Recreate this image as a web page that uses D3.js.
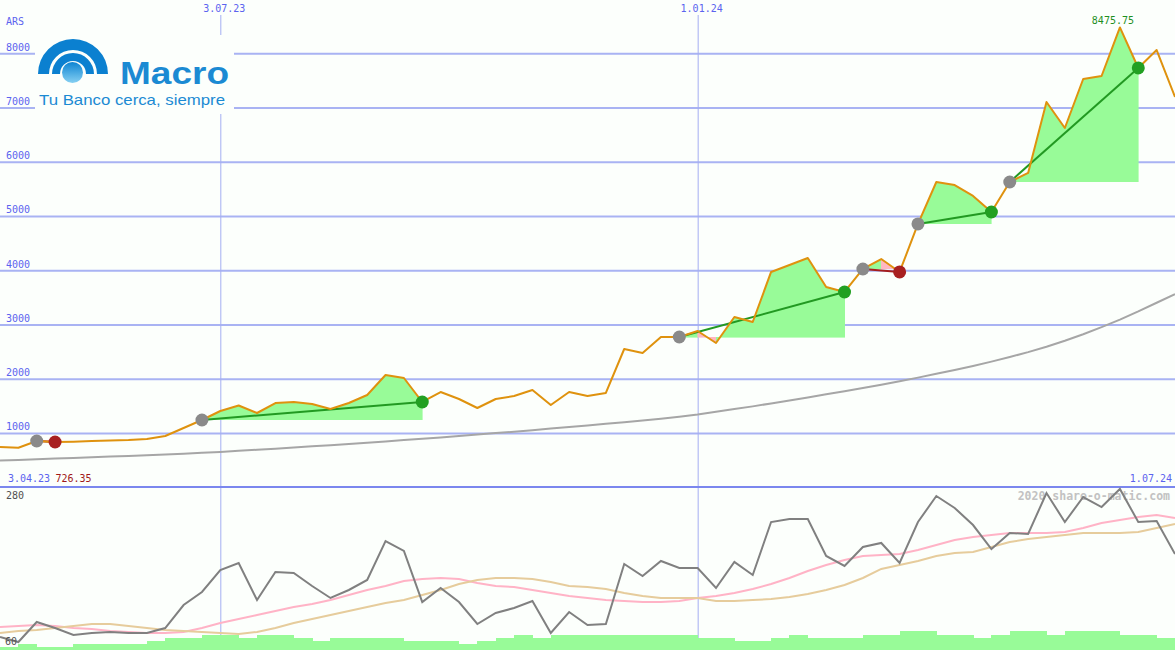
<!DOCTYPE html>
<html><head><meta charset="utf-8">
<script src="https://cdn.jsdelivr.net/npm/d3@7"></script>
<style>html,body{margin:0;padding:0;background:#fcfffc;} svg{display:block;}</style>
</head><body>
<svg id="c" width="1175" height="650"></svg>
<script>
// ---------- data ----------
const dates = ["2023-04-10","2023-04-17","2023-04-24","2023-05-01","2023-05-08","2023-05-15","2023-05-22","2023-05-29","2023-06-05","2023-06-12","2023-06-19","2023-06-26","2023-07-03","2023-07-10","2023-07-17","2023-07-24","2023-07-31","2023-08-07","2023-08-14","2023-08-21","2023-08-28","2023-09-04","2023-09-11","2023-09-18","2023-09-25","2023-10-02","2023-10-09","2023-10-16","2023-10-23","2023-10-30","2023-11-06","2023-11-13","2023-11-20","2023-11-27","2023-12-04","2023-12-11","2023-12-18","2023-12-25","2024-01-01","2024-01-08","2024-01-15","2024-01-22","2024-01-29","2024-02-05","2024-02-12","2024-02-19","2024-02-26","2024-03-04","2024-03-11","2024-03-18","2024-03-25","2024-04-01","2024-04-08","2024-04-15","2024-04-22","2024-04-29","2024-05-06","2024-05-13","2024-05-20","2024-05-27","2024-06-03","2024-06-10","2024-06-17","2024-06-24","2024-07-01"];
const price = [741,726.35,852,833,840,852,861,870,889,944,1092,1239,1405,1506,1368,1552,1571,1534,1442,1552,1700,2069,2013,1571,1755,1626,1460,1626,1681,1792,1515,1755,1681,1737,2548,2474,2769,2769,2880,2658,3138,3046,3968,4097,4226,3691,3599,4023,4207,3968,4853,5627,5571,5369,5074,5627,5793,7102,6622,7526,7581,8475.75,7729,8060,7194];
const priceMA = [492,503,515,527,539,551,564,577,590,604,618,633,650,670,690,711,732,753,775,797,820,843,868,893,918,944,970,997,1024,1052,1080,1109,1138,1168,1198,1229,1262,1298,1340,1390,1440,1490,1545,1600,1655,1712,1770,1830,1890,1955,2020,2090,2160,2235,2315,2400,2490,2590,2700,2820,2950,3090,3240,3400,3560];
const osc = [67.2,60.0,88.8,80.1,70.1,72.9,74.4,72.9,72.9,80.1,113.2,131.9,163.5,173.6,120.4,160.7,159.2,140.5,123.3,134.8,149.2,205.2,190.9,117.5,137.6,117.5,85.9,101.7,108.9,119.0,72.9,103.1,84.4,85.9,172.2,154.9,176.5,166.4,166.4,137.6,175.1,156.3,232.5,236.9,236.9,183.7,169.3,196.6,202.4,173.6,232.5,269.9,252.7,228.2,193.7,216.7,215.3,274.2,232.5,268.5,254.1,280.0,232.5,234.0,186.5];
const oscFast = [81.6,83.0,84.4,83.0,80.1,78.7,75.8,74.4,72.9,72.9,74.4,80.1,87.3,93.1,98.8,104.6,110.3,114.6,120.4,127.6,134.8,140.5,147.7,150.6,152.0,150.6,144.8,140.5,139.1,134.8,130.5,126.1,123.3,120.4,119.0,117.5,117.5,119.0,123.3,126.1,130.5,136.2,143.4,152.0,162.1,170.7,177.9,183.7,185.1,186.6,192.3,199.5,206.7,211.0,213.9,216.7,216.7,216.7,218.2,223.9,231.1,235.4,239.7,242.6,238.3];
const oscSlow = [72.9,75.8,77.3,80.1,83.0,85.9,85.9,83.0,80.1,77.3,75.8,74.4,72.9,71.5,74.4,80.1,87.3,93.1,98.8,104.6,110.3,116.1,120.4,127.6,134.8,143.4,149.2,152.0,152.0,150.6,146.3,140.5,139.1,136.2,130.5,126.1,123.3,123.3,123.3,119.0,119.0,120.4,121.8,124.7,129.0,134.8,142.0,152.0,165.0,170.7,176.5,183.7,188.0,189.4,196.6,203.8,208.1,211.0,213.9,216.7,216.7,216.7,218.2,223.9,229.7];
const volume = [3,6,3,3,6,6,6,6,9,12,12,15,15,12,15,15,12,9,12,12,12,12,9,9,9,6,9,12,15,12,15,15,15,15,15,15,15,15,12,12,9,9,12,15,12,12,12,15,15,19,19,15,15,12,15,19,19,15,19,19,19,15,15,12,12];
const tradeEntry = [2, 11, 37, 47, 50, 55];
const tradeExit  = [3, 23, 46, 49, 54, 62];
const priceTicks = [1000,2000,3000,4000,5000,6000,7000,8000];
const dateTicks = ["2023-07-03","2024-01-01"];
const dateTickLabels = ["3.07.23","1.01.24"];
const startLabel = "3.04.23", endLabel = "1.07.24";
const minLabel = "726.35", maxLabel = "8475.75";
const oscLabels = ["280","60"];
const unitLabel = "ARS";
const watermark = "2020 share-o-matic.com";

// ---------- setup ----------
const W = 1175, H = 650;
const svg = d3.select("#c");
const parse = d3.timeParse("%Y-%m-%d");
const D = dates.map(parse);
const mono = "'DejaVu Sans Mono', monospace";
const blue = "#5b63ef";
const x = d3.scaleTime().domain([parse("2023-04-10"), parse("2024-07-01")]).range([0, W]);
const y = d3.scaleLinear().domain([0, 8982]).range([487.2, 0]);
const yO = d3.scaleLinear().domain([60, 280]).range([642, 489]);
const yV = d3.scaleLinear().domain([0, 100]).range([650, 550]);

svg.append("rect").attr("width", W).attr("height", H).attr("fill", "#fcfffc");

// horizontal grid (price axis)
const gy = svg.append("g").call(d3.axisRight(y).tickValues(priceTicks).tickSize(W).tickFormat(d3.format("d")));
gy.select(".domain").remove();
gy.selectAll(".tick line").attr("stroke", "#a9b3f3").attr("stroke-width", 2);
gy.selectAll(".tick text").attr("x", 6).attr("dy", -3).attr("fill", blue)
  .attr("font-family", mono).attr("font-size", 10).attr("text-anchor", "start");

// vertical date lines
const gx = svg.append("g").attr("transform", "translate(0,15)")
  .call(d3.axisTop(x).tickValues(dateTicks.map(parse)).tickSize(-(H - 15)).tickPadding(3)
    .tickFormat((d, i) => dateTickLabels[i]));
gx.select(".domain").remove();
gx.selectAll(".tick line").attr("stroke", "#a4aef2").attr("stroke-width", 1);
gx.selectAll(".tick text").attr("dx", 3.5).attr("fill", blue).attr("font-family", mono).attr("font-size", 10);

// panel separator
svg.append("line").attr("x1", 0).attr("x2", W).attr("y1", 487).attr("y2", 487)
  .attr("stroke", "#7b87ee").attr("stroke-width", 2);

svg.append("text").attr("x", 6).attr("y", 25).text(unitLabel)
  .attr("fill", blue).attr("font-family", mono).attr("font-size", 10);

// ---------- logo ----------
const defs = svg.append("defs");
const g1 = defs.append("linearGradient").attr("id", "arcG").attr("gradientUnits", "userSpaceOnUse")
  .attr("x1", 0).attr("y1", 39).attr("x2", 0).attr("y2", 76);
g1.append("stop").attr("offset", 0).attr("stop-color", "#0b80d0");
g1.append("stop").attr("offset", 0.55).attr("stop-color", "#43a6e2");
g1.append("stop").attr("offset", 1).attr("stop-color", "#f2f9fd");
const g2 = defs.append("linearGradient").attr("id", "ballG").attr("x1", 0).attr("y1", 0).attr("x2", 0).attr("y2", 1);
g2.append("stop").attr("offset", 0).attr("stop-color", "#0d84d3");
g2.append("stop").attr("offset", 1).attr("stop-color", "#86d0f2");
const logo = svg.append("g");
logo.append("rect").attr("x", 35).attr("y", 35).attr("width", 199).attr("height", 79).attr("fill", "#fcfffc");
const arc = d3.arc().startAngle(-Math.PI / 2).endAngle(Math.PI / 2);
logo.append("path").attr("transform", "translate(73,74)")
  .attr("d", arc({innerRadius: 24, outerRadius: 35})).attr("fill", "url(#arcG)");
logo.append("path").attr("transform", "translate(73,74)")
  .attr("d", arc({innerRadius: 13, outerRadius: 21})).attr("fill", "url(#arcG)");
logo.append("circle").attr("cx", 72.5).attr("cy", 72.5).attr("r", 10.5).attr("fill", "url(#ballG)");
logo.append("text").attr("x", 120).attr("y", 83.5).text("Macro")
  .attr("font-family", "'Liberation Sans', Arial, sans-serif").attr("font-weight", 700).attr("font-size", 31)
  .attr("fill", "#1b8ad3").attr("textLength", 109).attr("lengthAdjust", "spacingAndGlyphs");
logo.append("text").attr("x", 39).attr("y", 104.5).text("Tu Banco cerca, siempre")
  .attr("font-family", "'Liberation Sans', Arial, sans-serif").attr("font-size", 15)
  .attr("fill", "#1b8ad3").attr("textLength", 186).attr("lengthAdjust", "spacingAndGlyphs");

// ---------- trade shading ----------
const green = "#98fb98", pink = "#ffb6c1";
const fills = svg.append("g").attr("shape-rendering", "crispEdges");
tradeEntry.forEach((a, t) => {
  const b = tradeExit[t];
  const base = y(price[a]);
  for (let i = a; i < b; i++) {
    const area = d3.area().x(k => x(D[k])).y0(base).y1(k => y(price[k]));
    const col = price[i + 1] >= price[a] ? green : pink;
    fills.append("path").attr("d", area([i, i + 1]))
      .attr("fill", col).attr("stroke", col).attr("stroke-width", 0.6);
  }
});

// slow moving average of price
svg.append("path").attr("d", d3.line().x((d, i) => x(D[i])).y(d => y(d))(priceMA))
  .attr("fill", "none").attr("stroke", "#a6a6a6").attr("stroke-width", 2);

// trade lines
tradeEntry.forEach((a, t) => {
  const b = tradeExit[t];
  const win = price[b] >= price[a];
  svg.append("path").attr("d", d3.line().x(k => x(D[k])).y(k => y(price[k]))([a, b]))
    .attr("stroke", win ? "#229922" : "#a51e1e").attr("stroke-width", 2).attr("fill", "none");
});

// price line
svg.append("path").attr("d", d3.line().x((d, i) => x(D[i])).y(d => y(d))(price))
  .attr("fill", "none").attr("stroke", "#df920e").attr("stroke-width", 2).attr("stroke-linejoin", "round");

// markers
tradeEntry.forEach((a, t) => {
  const b = tradeExit[t];
  const win = price[b] >= price[a];
  svg.append("circle").attr("cx", x(D[a])).attr("cy", y(price[a])).attr("r", 6.5).attr("fill", "#8a8a8a");
  svg.append("circle").attr("cx", x(D[b])).attr("cy", y(price[b])).attr("r", 6.5).attr("fill", win ? "#22a022" : "#a82020");
});

// max label
const iMax = price.indexOf(d3.max(price));
svg.append("text").attr("x", x(D[iMax]) - 7).attr("y", 24).attr("text-anchor", "middle").text(maxLabel)
  .attr("fill", "#1f8f1f").attr("font-family", mono).attr("font-size", 10);

// bottom-of-top-panel labels
svg.append("text").attr("x", 8).attr("y", 482).text(startLabel).attr("fill", blue).attr("font-family", mono).attr("font-size", 10);
svg.append("text").attr("x", 55.5).attr("y", 482).text(minLabel).attr("fill", "#a01818").attr("font-family", mono).attr("font-size", 10);
svg.append("text").attr("x", 1172).attr("y", 482).attr("text-anchor", "end").text(endLabel).attr("fill", blue).attr("font-family", mono).attr("font-size", 10);

// ---------- lower panel ----------
svg.append("text").attr("x", 1170).attr("y", 500).attr("text-anchor", "end").text(watermark)
  .attr("fill", "#c2c2c2").attr("font-family", mono).attr("font-weight", 700).attr("font-size", 11.5);

svg.append("g").attr("shape-rendering", "crispEdges").selectAll("rect").data(volume).join("rect")
  .attr("x", (d, i) => x(D[i]))
  .attr("width", (d, i) => (i < D.length - 1 ? x(D[i + 1]) - x(D[i]) : x(D[i]) - x(D[i - 1])) + 0.5)
  .attr("y", d => yV(d)).attr("height", d => yV(0) - yV(d)).attr("fill", green);

const lo = d3.line().x((d, i) => x(D[i])).y(d => yO(d));
svg.append("path").attr("d", lo(oscFast)).attr("fill", "none").attr("stroke", "#ffb3c6").attr("stroke-width", 2);
svg.append("path").attr("d", lo(oscSlow)).attr("fill", "none").attr("stroke", "#e6cc9c").attr("stroke-width", 2);
svg.append("path").attr("d", lo(osc)).attr("fill", "none").attr("stroke", "#808080").attr("stroke-width", 2);

svg.append("text").attr("x", 6).attr("y", 499).text(oscLabels[0]).attr("fill", "#505050").attr("font-family", mono).attr("font-size", 10);
svg.append("text").attr("x", 5).attr("y", 645).text(oscLabels[1]).attr("fill", "#505050").attr("font-family", mono).attr("font-size", 10);
</script>
</body></html>
